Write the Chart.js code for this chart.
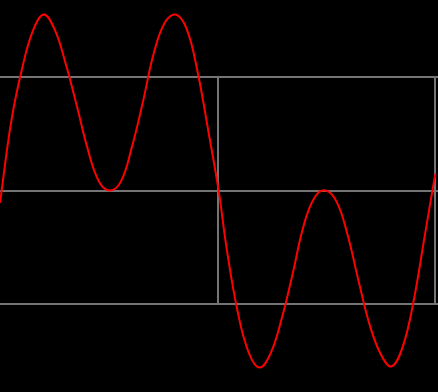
<!DOCTYPE html>
<html>
<head>
<meta charset="utf-8">
<script src="https://cdn.jsdelivr.net/npm/chart.js@4/dist/chart.umd.min.js"></script>
<style>
	html, body { margin: 0; padding: 0; background: #000; }
	#grafico { display: block; }
</style>
</head>
<body>
<div style="width:438px;height:392px"><canvas id="grafico" width="438" height="392"></canvas></div>
<script>
// curve samples (x from 0 to 2, y grid at -1, 0, 1)
var xValues = [0, 0.051, 0.101, 0.152, 0.202, 0.253, 0.303, 0.354, 0.404, 0.455,
	0.505, 0.556, 0.606, 0.657, 0.707, 0.758, 0.808, 0.859, 0.909, 0.960,
	1.006, 1.042, 1.093, 1.144, 1.194, 1.245, 1.295, 1.346, 1.396, 1.447,
	1.497, 1.548, 1.598, 1.649, 1.699, 1.750, 1.800, 1.851, 1.901, 1.952,
	2.002, 2.016];
var yValues = [-0.11, 0.60, 1.07, 1.41, 1.55, 1.41, 1.11, 0.74, 0.36, 0.08,
	0.00, 0.08, 0.38, 0.78, 1.21, 1.48, 1.55, 1.42, 1.04, 0.50,
	-0.01, -0.51, -1.07, -1.43, -1.56, -1.43, -1.13, -0.73, -0.31, -0.06,
	0.00, -0.10, -0.39, -0.80, -1.18, -1.44, -1.55, -1.38, -0.98, -0.41,
	0.15, 0.27];
var xTicks = [0, 1, 2];
var yTicks = [-1, 0, 1];

var pontos = xValues.map(function(x, i) {
	return { x: x, y: yValues[i] };
});

var corGrade = '#747474';

var ctx = document.getElementById('grafico').getContext('2d');
var grafico = new Chart(ctx, {
	type: 'line',
	data: {
		datasets: [{
			data: pontos,
			borderColor: '#ff0000',
			borderWidth: 2,
			pointRadius: 0,
			tension: 0.4,
			clip: false
		}]
	},
	options: {
		responsive: false,
		animation: false,
		layout: {
			padding: { top: 77, bottom: 88, left: 0, right: 0 }
		},
		plugins: {
			legend: { display: false },
			tooltip: { enabled: false }
		},
		scales: {
			x: {
				type: 'linear',
				min: xTicks[0],
				max: xTicks[xTicks.length - 1],
				afterBuildTicks: function(axis) {
					axis.ticks = xTicks.map(function(v) { return { value: v }; });
				},
				ticks: { display: false },
				border: { display: false },
				grid: {
					drawTicks: false,
					lineWidth: 2,
					color: function(c) { return c.index === 0 ? 'rgba(0,0,0,0)' : corGrade; }
				}
			},
			y: {
				position: 'right',
				min: yTicks[0],
				max: yTicks[yTicks.length - 1],
				afterBuildTicks: function(axis) {
					axis.ticks = yTicks.map(function(v) { return { value: v }; });
				},
				ticks: { display: false },
				border: { display: false },
				grid: {
					drawTicks: true,
					tickLength: 3,
					lineWidth: 2,
					color: corGrade
				}
			}
		}
	}
});
</script>
</body>
</html>
